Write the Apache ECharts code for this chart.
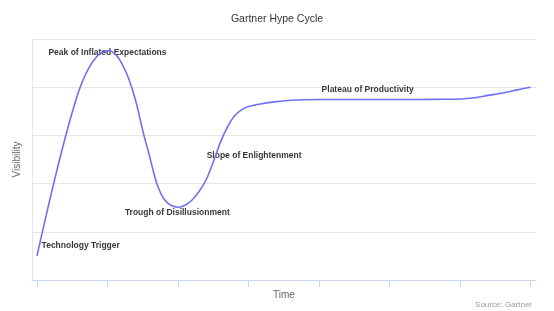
<!DOCTYPE html>
<html>
<head>
<meta charset="utf-8">
<script src="https://cdn.jsdelivr.net/npm/echarts@6/dist/echarts.min.js"></script>
<style>
  html, body { margin: 0; padding: 0; background: #fff; }
  #chart { width: 554px; height: 311px; }
</style>
</head>
<body>
<div id="chart"></div>
<script>
  // curve: time (tick units) -> visibility
  var timeValues = [0, 0.1, 0.2, 0.3, 0.4, 0.5, 0.6, 0.7, 0.8, 0.9,
                    1.0, 1.1, 1.2, 1.3, 1.4, 1.5, 1.6, 1.7, 1.8, 1.9,
                    2.0, 2.1, 2.2, 2.3, 2.4, 2.5, 2.6, 2.7, 2.8, 2.9,
                    3.0, 3.2, 3.4, 3.6, 3.8, 4.2, 4.6, 5.0, 5.4, 5.8,
                    6.0, 6.2, 6.4, 6.6, 6.8, 7.0];
  var visibility = [0.50, 1.15, 1.78, 2.38, 2.95, 3.48, 3.95, 4.30, 4.55, 4.70,
                    4.76, 4.70, 4.50, 4.18, 3.72, 3.10, 2.55, 2.00, 1.68, 1.55,
                    1.51, 1.55, 1.66, 1.84, 2.08, 2.45, 2.85, 3.17, 3.40, 3.53,
                    3.60, 3.66, 3.70, 3.73, 3.74, 3.745, 3.745, 3.745, 3.745, 3.75,
                    3.755, 3.78, 3.83, 3.88, 3.94, 4.00];
  var phaseNames = ['Technology Trigger', 'Peak of Inflated Expectations', 'Trough of Disillusionment', 'Slope of Enlightenment', 'Plateau of Productivity'];
  var phaseTime = [0.62, 1.0, 1.99, 3.08, 4.69];
  var phaseVis = [0.71, 4.71, 1.39, 2.57, 3.94];
  var timeTicks = [0, 1, 2, 3, 4, 5, 6, 7];

  var chart = echarts.init(document.getElementById('chart'));

  var curve = [];
  for (var i = 0; i < timeValues.length; i++) {
    curve.push([timeValues[i], visibility[i]]);
  }
  var phases = [];
  for (var j = 0; j < phaseNames.length; j++) {
    phases.push([phaseTime[j], phaseVis[j], phaseNames[j]]);
  }

  chart.setOption({
    animation: false,
    backgroundColor: '#fff',
    textStyle: { fontFamily: 'Liberation Sans' },
    title: [{
      text: 'Gartner Hype Cycle',
      left: 'center',
      top: 9,
      textStyle: { color: '#333', fontSize: 10.5, fontWeight: 'normal' }
    }, {
      text: 'Source: Gartner',
      right: 17,
      top: 296,
      textStyle: { color: '#999', fontSize: 8, fontWeight: 'normal' }
    }],
    grid: { left: 32, right: 18, top: 39, bottom: 31 },
    xAxis: {
      type: 'value',
      min: -0.0709,
      max: 7.078,
      name: 'Time',
      nameLocation: 'middle',
      nameGap: 10,
      nameTextStyle: { color: '#666', fontSize: 10 },
      axisLine: { lineStyle: { color: '#ccd6eb' } },
      axisTick: { show: true, length: 7, customValues: timeTicks, lineStyle: { color: '#ccd6eb' } },
      axisLabel: { show: false },
      splitLine: { show: false }
    },
    yAxis: {
      type: 'value',
      min: 0,
      max: 5,
      interval: 1,
      name: 'Visibility',
      nameLocation: 'middle',
      nameGap: 10,
      nameTextStyle: { color: '#666', fontSize: 10 },
      axisLine: { show: true, onZero: false, lineStyle: { color: '#e6e6e6' } },
      axisTick: { show: false },
      axisLabel: { show: false },
      splitLine: { lineStyle: { color: '#e6e6e6' } }
    },
    series: [{
      type: 'line',
      data: curve,
      smooth: 0.3,
      symbol: 'none',
      lineStyle: { color: '#7070f0', width: 1.6 }
    }, {
      type: 'scatter',
      data: phases,
      symbolSize: 0,
      label: {
        show: true,
        position: 'inside',
        formatter: function (p) { return p.data[2]; },
        color: '#000',
        fontSize: 8.5,
        fontWeight: 'bold',
        textBorderColor: '#fff',
        textBorderWidth: 2
      }
    }]
  });
</script>
</body>
</html>
